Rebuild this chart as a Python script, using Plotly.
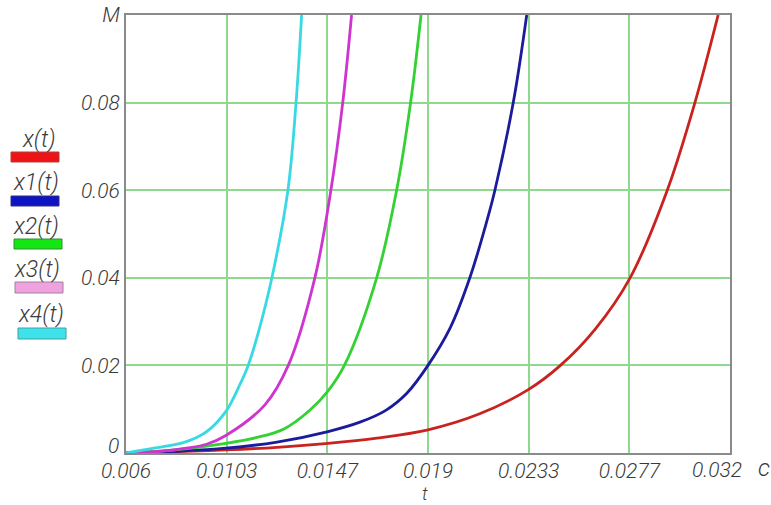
import plotly.graph_objects as go

# --- data -----------------------------------------------------------------
series_names = ["x(t)", "x1(t)", "x2(t)", "x3(t)", "x4(t)"]

t_x = [0.006, 0.0081, 0.0103, 0.0125, 0.0147, 0.0168, 0.019, 0.0212, 0.0233,
       0.0247, 0.0262, 0.0277, 0.0293, 0.03049, 0.03149]
v_x = [0.0, 0.0003, 0.0007, 0.0013, 0.0022, 0.0034, 0.0053, 0.0089, 0.0144,
       0.02, 0.0283, 0.04, 0.06, 0.08, 0.1]

t_x1 = [0.006, 0.0081, 0.0103, 0.0125, 0.0147, 0.0161, 0.0172, 0.0181, 0.019,
        0.01995, 0.0208, 0.02155, 0.02188, 0.02267, 0.02325]
v_x1 = [0.0, 0.0004, 0.0011, 0.0025, 0.0049, 0.0071, 0.0098, 0.0137, 0.02,
        0.0285, 0.04, 0.0533, 0.06, 0.08, 0.1]

t_x2 = [0.006, 0.0081, 0.0103, 0.0116, 0.0128, 0.0139, 0.0147, 0.0154,
        0.01679, 0.01765, 0.01825, 0.0187]
v_x2 = [0.0, 0.0007, 0.0022, 0.0035, 0.0055, 0.0097, 0.0142, 0.02,
        0.04, 0.06, 0.08, 0.1]

t_x3 = [0.006, 0.0075, 0.0086, 0.00947, 0.0103, 0.01198, 0.012985, 0.01413,
        0.01482, 0.01533, 0.01571]
v_x3 = [0.0, 0.0004, 0.0011, 0.002, 0.004, 0.011, 0.02, 0.04,
        0.06, 0.08, 0.1]

t_x4 = [0.006, 0.0072, 0.0086, 0.0095, 0.0103, 0.0109, 0.01126, 0.0117,
        0.01228, 0.01297, 0.01332, 0.01356]
v_x4 = [0.0, 0.0011, 0.0026, 0.005, 0.0095, 0.0156, 0.02, 0.0276,
        0.04, 0.06, 0.08, 0.1]

x_tick_vals = [0.006, 0.0103333, 0.0146667, 0.019, 0.0233333, 0.0276667, 0.032]
x_tick_text = ["0.006", "0.0103", "0.0147", "0.019", "0.0233", "0.0277", "0.032"]
y_tick_vals = [0.0, 0.02, 0.04, 0.06, 0.08, 0.1]
y_tick_text = ["0", "0.02", "0.04", "0.06", "0.08", "M"]
x_unit = "c"
x_title = "t"

# --- styling --------------------------------------------------------------
line_colors = ["#c8231f", "#1b1b9c", "#33d133", "#cf34cf", "#38d9e3"]
swatch_colors = ["#ec1414", "#0c14c4", "#14e614", "#f0a2de", "#3ee2ea"]
swatch_borders = ["#b04040", "#303080", "#309030", "#a080a0", "#40a0a8"]

FONT = "Roboto, Liberation Sans, sans-serif"
TEXT = "#3a3a3a"

W, H = 771, 505
ML, MR, MT, MB = 126, 41, 15, 52
PW, PH = W - ML - MR, H - MT - MB


def px(x):
    return (x - ML) / PW


def py(y):
    return (H - MB - y) / PH


def tfont(size):
    return dict(family=FONT, size=size, color=TEXT, style="italic", weight=300)


fig = go.Figure()
for name, t, v, c in zip(series_names,
                         [t_x, t_x1, t_x2, t_x3, t_x4],
                         [v_x, v_x1, v_x2, v_x3, v_x4],
                         line_colors):
    fig.add_trace(go.Scatter(x=t, y=v, name=name, mode="lines",
                             line=dict(color=c, width=2.8, shape="spline",
                                       smoothing=1.0),
                             showlegend=False))

# legend: caption above a coloured bar for each series
legend_text_pos = [(38, 139), (36, 182), (36, 226), (37, 269), (41, 314)]
legend_bar_pos = [(11, 152, 59, 162), (11, 196, 59, 206), (14, 239, 62, 249),
                  (15, 282, 63, 293), (18, 328, 66, 339)]
for name, (tx, ty), (x0, y0, x1, y1), fc, bc in zip(
        series_names, legend_text_pos, legend_bar_pos, swatch_colors, swatch_borders):
    fig.add_annotation(x=px(tx), y=py(ty), xref="paper", yref="paper",
                       text=name, showarrow=False, xanchor="center", yanchor="middle",
                       font=tfont(23))
    fig.add_shape(type="rect", xref="paper", yref="paper",
                  x0=px(x0), x1=px(x1), y0=py(y1), y1=py(y0),
                  fillcolor=fc, line=dict(color=bc, width=1))

# end labels drawn separately so they can sit clear of the neighbouring texts
fig.add_annotation(x=x_tick_vals[-1], y=0, xref="x", yref="y", text=x_tick_text[-1],
                   showarrow=False, xanchor="center", yanchor="top",
                   xshift=-13, yshift=-3, font=tfont(21))
fig.add_annotation(x=0, y=y_tick_vals[0], xref="paper", yref="y", text=y_tick_text[0],
                   showarrow=False, xanchor="right", yanchor="middle",
                   xshift=-5, yshift=7, font=tfont(21))
fig.add_annotation(x=px(764), y=py(468), xref="paper", yref="paper", text=x_unit,
                   showarrow=False, xanchor="center", yanchor="middle",
                   font=tfont(24))
fig.add_annotation(x=px(425), y=py(493), xref="paper", yref="paper", text=x_title,
                   showarrow=False, xanchor="center", yanchor="middle",
                   font=tfont(18))

x_text_shown = x_tick_text[:-1] + [""]
y_text_shown = [""] + y_tick_text[1:]

fig.update_xaxes(range=[0.006, 0.032], tickvals=x_tick_vals, ticktext=x_text_shown,
                 showgrid=True, gridcolor="#8ed98e", gridwidth=1.5,
                 showline=True, mirror=True, linecolor="#8a8a8a", linewidth=2,
                 zeroline=False, ticks="", tickfont=tfont(21), ticklabelstandoff=-2,
                 automargin=False)
fig.update_yaxes(range=[0, 0.1], tickvals=y_tick_vals, ticktext=y_text_shown,
                 showgrid=True, gridcolor="#8ed98e", gridwidth=1.5,
                 showline=True, mirror=True, linecolor="#8a8a8a", linewidth=2,
                 zeroline=False, ticks="", tickfont=tfont(21), ticklabelstandoff=0,
                 automargin=False)

fig.update_layout(width=W, height=H, margin=dict(l=ML, r=MR, t=MT, b=MB),
                  plot_bgcolor="white", paper_bgcolor="white")

fig.write_html("out.html")
